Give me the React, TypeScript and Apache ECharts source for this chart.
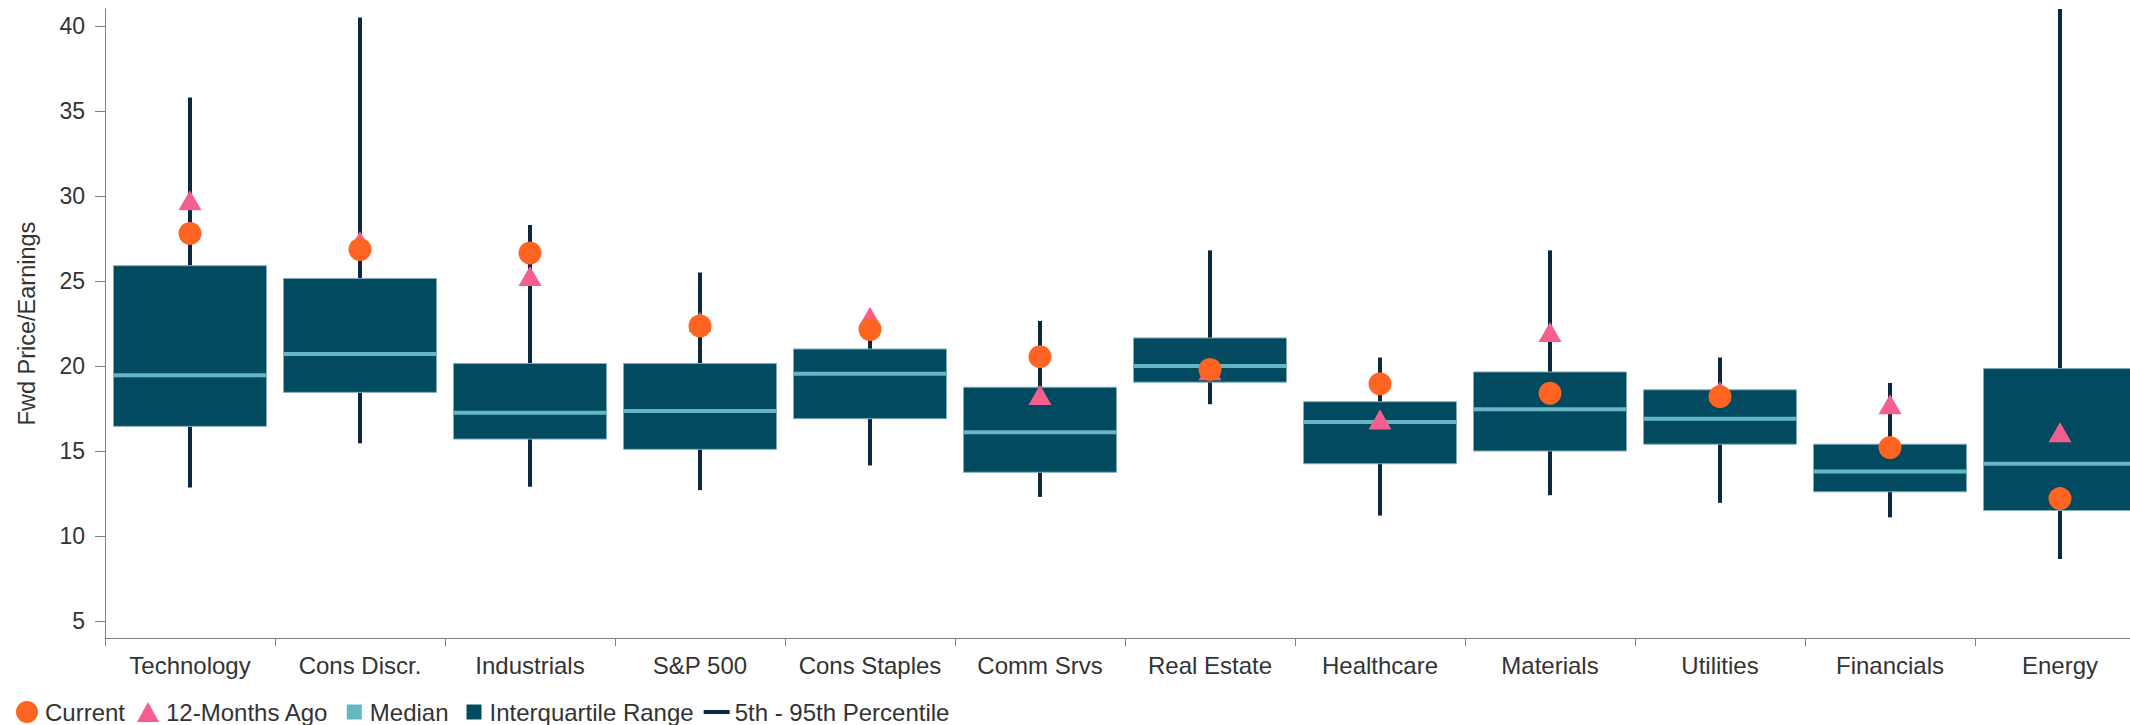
import React, { useEffect, useRef } from 'react';
import * as echarts from 'echarts';

const categories = ['Technology', 'Cons Discr.', 'Industrials', 'S&P 500', 'Cons Staples', 'Comm Srvs', 'Real Estate', 'Healthcare', 'Materials', 'Utilities', 'Financials', 'Energy'];
const p5 = [12.85, 15.45, 12.9, 12.7, 14.15, 12.3, 17.75, 11.2, 12.4, 11.95, 11.1, 8.65];
const q1 = [16.45, 18.45, 15.7, 15.1, 16.9, 13.75, 19.05, 14.25, 15.0, 15.4, 12.6, 11.5];
const medians = [19.45, 20.7, 17.25, 17.35, 19.55, 16.1, 20.0, 16.7, 17.45, 16.9, 13.8, 14.25];
const q3 = [25.9, 25.15, 20.15, 20.15, 21.0, 18.75, 21.65, 17.9, 19.65, 18.6, 15.4, 19.85];
const p95 = [35.8, 40.5, 28.3, 25.5, 22.8, 22.65, 26.8, 20.5, 26.8, 20.5, 19.0, 41];
const current = [27.8, 26.85, 26.65, 22.35, 22.15, 20.55, 19.8, 18.95, 18.4, 18.2, 15.2, 12.2];
const monthsAgo = [29.75, 27.35, 25.3, 22.6, 22.9, 18.3, 19.75, 16.85, 22.0, 18.5, 17.75, 16.1];
const yTicks = [5, 10, 15, 20, 25, 30, 35, 40];

const FONT = 'Liberation Sans, Arial, Helvetica, sans-serif';
const C_ORANGE = '#FF6422';
const C_PINK = '#F45F8F';
const C_MEDIAN = '#63B8C4';
const C_BOX = '#024A5F';
const C_WHISKER = '#0B2742';
const C_AXIS = '#808080';
const C_TEXT = '#333333';

export default function App() {
  const ref = useRef<HTMLDivElement>(null);
  useEffect(() => {
    const chart = echarts.init(ref.current as HTMLDivElement, null, { renderer: 'svg' });
    const option: any = {
      animation: false,
      grid: { left: 105, right: 55, top: 9, bottom: 87, containLabel: false, outerBoundsMode: 'none' },
      legend: {
        left: 14,
        top: 700,
        padding: 0,
        itemWidth: 26,
        itemHeight: 24,
        itemGap: 10,
        textStyle: { fontSize: 24, color: C_TEXT, fontFamily: FONT },
        data: [
          { name: 'Current', icon: 'path://M0,0M26,24M2,12a11,11 0 1,0 22,0a11,11 0 1,0 -22,0z', itemStyle: { color: C_ORANGE } },
          { name: '12-Months Ago', icon: 'path://M0,0M26,24M13,2L24,22L2,22z', itemStyle: { color: C_PINK } },
          { name: 'Median', icon: 'path://M0,0M26,24M8,4.5h15v15h-15z', itemStyle: { color: C_MEDIAN } },
          { name: 'Interquartile Range', icon: 'path://M0,0M26,24M8,4.5h15v15h-15z', itemStyle: { color: C_BOX } },
          { name: '5th - 95th Percentile', icon: 'path://M0,0M26,24M0,10h26v4h-26z', itemStyle: { color: C_WHISKER } },
        ],
      },
      xAxis: {
        type: 'category',
        data: categories,
        boundaryGap: true,
        axisLine: { show: true, lineStyle: { color: C_AXIS, width: 1 } },
        axisTick: { show: true, length: 8, lineStyle: { color: C_AXIS, width: 1 } },
        axisLabel: { interval: 0, fontSize: 24, color: C_TEXT, fontFamily: FONT, margin: 15 },
        splitLine: { show: false },
      },
      yAxis: {
        type: 'value',
        min: 4,
        max: 41,
        name: 'Fwd Price/Earnings',
        nameLocation: 'middle',
        nameGap: 66,
        nameTextStyle: { fontSize: 23.5, color: C_TEXT, fontFamily: FONT },
        axisLine: { show: true, lineStyle: { color: C_AXIS, width: 1 } },
        axisTick: { show: true, length: 10, customValues: yTicks, lineStyle: { color: C_AXIS, width: 1 } },
        axisLabel: { fontSize: 23, color: C_TEXT, fontFamily: FONT, margin: 20, customValues: yTicks },
        splitLine: { show: false },
      },
      series: [
        {
          name: '5th - 95th Percentile',
          type: 'custom',
          itemStyle: { color: C_WHISKER },
          encode: { x: 0, y: [1, 2] },
          data: categories.map((_, i) => [i, p5[i], p95[i]]),
          renderItem: (params: any, api: any) => {
            const i = api.value(0);
            const lo = api.coord([i, api.value(1)]);
            const hi = api.coord([i, api.value(2)]);
            return {
              type: 'line',
              shape: { x1: lo[0], y1: lo[1], x2: hi[0], y2: hi[1] },
              style: { stroke: C_WHISKER, lineWidth: 4 },
            };
          },
        },
        {
          name: 'Interquartile Range',
          type: 'custom',
          itemStyle: { color: C_BOX },
          encode: { x: 0, y: [1, 2] },
          data: categories.map((_, i) => [i, q1[i], q3[i]]),
          renderItem: (params: any, api: any) => {
            const i = api.value(0);
            const lo = api.coord([i, api.value(1)]);
            const hi = api.coord([i, api.value(2)]);
            const w = api.size([1, 0])[0] * 0.9;
            return {
              type: 'rect',
              shape: { x: lo[0] - w / 2, y: hi[1], width: w, height: lo[1] - hi[1] },
              style: { fill: C_BOX, stroke: '#7FAEBA', lineWidth: 1 },
            };
          },
        },
        {
          name: 'Median',
          type: 'custom',
          itemStyle: { color: C_MEDIAN },
          encode: { x: 0, y: 1 },
          data: categories.map((_, i) => [i, medians[i]]),
          renderItem: (params: any, api: any) => {
            const i = api.value(0);
            const p = api.coord([i, api.value(1)]);
            const w = api.size([1, 0])[0] * 0.9;
            return {
              type: 'line',
              shape: { x1: p[0] - w / 2, y1: p[1], x2: p[0] + w / 2, y2: p[1] },
              style: { stroke: C_MEDIAN, lineWidth: 4 },
            };
          },
        },
        {
          name: '12-Months Ago',
          type: 'scatter',
          symbol: 'triangle',
          symbolSize: [23, 20],
          itemStyle: { color: C_PINK, opacity: 1 },
          data: monthsAgo,
        },
        {
          name: 'Current',
          type: 'scatter',
          symbol: 'circle',
          symbolSize: 23,
          itemStyle: { color: C_ORANGE, opacity: 1 },
          data: current,
        },
      ],
    };
    chart.setOption(option);
    return () => chart.dispose();
  }, []);
  return (
    <div style={{ position: 'absolute', left: 0, top: 0, width: 2130, height: 725, overflow: 'hidden', background: '#fff' }}>
      <div ref={ref} style={{ width: 2200, height: 725 }} />
    </div>
  );
}
